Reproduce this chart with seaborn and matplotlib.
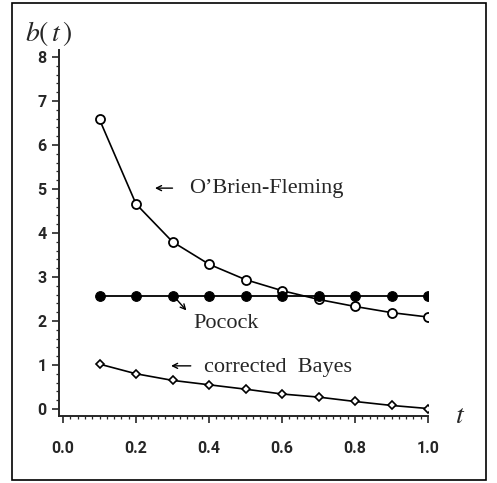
import numpy as np
import pandas as pd
import matplotlib.pyplot as plt
import seaborn as sns
from matplotlib.ticker import MultipleLocator
from matplotlib.patches import Rectangle

# values
t = [0.1, 0.2, 0.3, 0.4, 0.5, 0.6, 0.7, 0.8, 0.9, 1.0]
obrien_fleming = [6.58, 4.66, 3.80, 3.29, 2.94, 2.69, 2.49, 2.33, 2.19, 2.09]
pocock = [2.56, 2.56, 2.56, 2.56, 2.56, 2.56, 2.56, 2.56, 2.56, 2.56]
corrected_bayes = [1.02, 0.80, 0.65, 0.55, 0.45, 0.34, 0.27, 0.17, 0.08, 0.01]

x_ticks = [0.0, 0.2, 0.4, 0.6, 0.8, 1.0]
x_labels = ["0.0", "0.2", "0.4", "0.6", "0.8", "1.0"]
y_ticks = [0, 1, 2, 3, 4, 5, 6, 7, 8]

sns.set_style("ticks")
plt.rcParams["mathtext.fontset"] = "stix"
serif = ["Liberation Serif", "DejaVu Serif"]

fig = plt.figure(figsize=(4.97, 4.83), dpi=100)
ax = fig.add_axes([0.1187, 0.1387, 0.7425, 0.7578])

df = pd.DataFrame({"t": t, "obf": obrien_fleming, "poc": pocock, "cb": corrected_bayes})

sns.lineplot(data=df, x="t", y="obf", ax=ax, color="black", lw=1.2,
             marker="o", markersize=6.5, markerfacecolor="white",
             markeredgecolor="black", markeredgewidth=1.3)
sns.lineplot(data=df, x="t", y="cb", ax=ax, color="black", lw=1.2,
             marker="D", markersize=4.5, markerfacecolor="white",
             markeredgecolor="black", markeredgewidth=1.2)
sns.lineplot(data=df, x="t", y="poc", ax=ax, color="black", lw=1.3,
             marker="o", markersize=7, markerfacecolor="black",
             markeredgecolor="black")

ax.set_xlim(-0.011, 1.0)
ax.set_ylim(-0.16, 8.16)
ax.set_xticks(x_ticks)
ax.set_yticks(y_ticks)
ax.set_xticklabels(x_labels)
ax.set_yticklabels([str(v) for v in y_ticks])
ax.xaxis.set_minor_locator(MultipleLocator(0.02))
ax.yaxis.set_minor_locator(MultipleLocator(0.2))
ax.tick_params(which="major", length=5, width=1.2)
ax.tick_params(axis="x", which="major", pad=13)
ax.tick_params(axis="y", which="major", pad=4)
ax.tick_params(which="minor", length=2.5, width=0.9)
for lab in ax.get_xticklabels() + ax.get_yticklabels():
    lab.set_family("Roboto")
    lab.set_fontsize(11.5)
    lab.set_fontweight("bold")
ax.set_xlabel("")
ax.set_ylabel("")
sns.despine(ax=ax)
for side in ["left", "bottom"]:
    ax.spines[side].set_linewidth(1.4)

# annotations
arrow = dict(arrowstyle="->", color="black", lw=1.0, shrinkA=0, shrinkB=0,
             mutation_scale=9)
ax.annotate("", xy=(0.252, 5.02), xytext=(0.300, 5.02), arrowprops=arrow)
ax.text(0.345, 5.02, "O\u2019Brien-Fleming", family=serif, fontsize=16,
        va="center", ha="left")
ax.annotate("", xy=(0.338, 2.24), xytext=(0.305, 2.55), arrowprops=arrow)
ax.text(0.356, 1.95, "Pocock", family=serif, fontsize=16, va="center", ha="left")
ax.annotate("", xy=(0.296, 0.98), xytext=(0.350, 0.98), arrowprops=arrow)
ax.text(0.385, 0.95, "corrected  Bayes", family=serif, fontsize=16,
        va="center", ha="left")

fig.text(0.05, 0.93, "$b(\\,t\\,)$", fontsize=20, va="center", ha="left")
fig.text(0.915, 0.14, "$t$", fontsize=20, va="center", ha="left")

fig.patches.append(Rectangle((0.024, 0.006), 0.954, 0.988, transform=fig.transFigure,
                             fill=False, edgecolor="black", lw=1.2))

fig.savefig("out.png", dpi=100)
